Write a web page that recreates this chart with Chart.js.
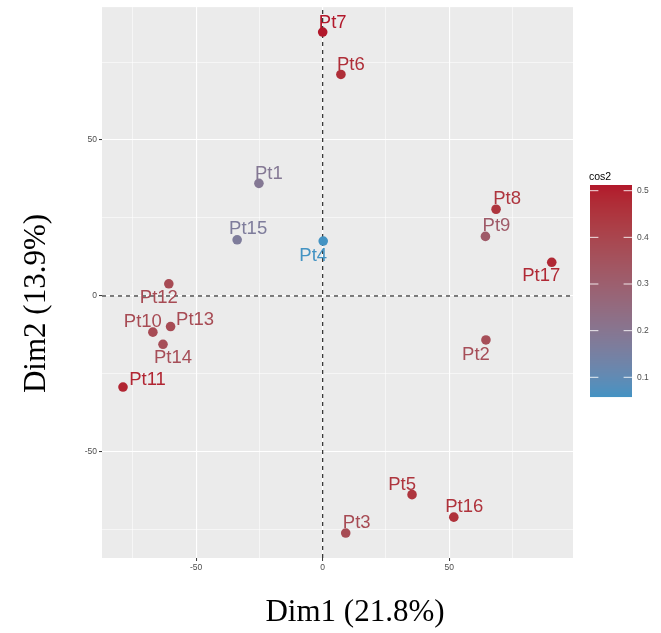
<!DOCTYPE html>
<html><head><meta charset="utf-8">
<script src="https://cdn.jsdelivr.net/npm/chart.js@4"></script>
<style>html,body{margin:0;padding:0;background:#fff}canvas{display:block}</style>
</head><body>
<canvas id="c" width="661" height="633"></canvas>
<script>
// ---- data ----
const categories = ['Pt1','Pt2','Pt3','Pt4','Pt5','Pt6','Pt7','Pt8','Pt9','Pt10','Pt11','Pt12','Pt13','Pt14','Pt15','Pt16','Pt17'];
const dim1 = [-25.2, 64.5, 9.1, 0.2, 35.3, 7.2, 0.0, 68.5, 64.3, -67.1, -78.9, -60.8, -60.1, -63.1, -33.8, 51.8, 90.5];
const dim2 = [36.1, -14.1, -76.0, 17.6, -63.7, 71.0, 84.6, 27.8, 19.1, -11.6, -29.2, 3.9, -9.8, -15.5, 18.0, -70.9, 10.8];
const cos2 = [0.19, 0.37, 0.38, 0.058, 0.45, 0.47, 0.512, 0.45, 0.32, 0.38, 0.49, 0.38, 0.38, 0.37, 0.17, 0.46, 0.48];
const axisTicks = [-75, -50, -25, 0, 25, 50, 75];
const legendTicks = [0.1, 0.2, 0.3, 0.4, 0.5];
const xTitle = 'Dim1 (21.8%)';
const yTitle = 'Dim2 (13.9%)';
const legendTitle = 'cos2';

// ---- colour scale (Lab interpolation, like ggplot) ----
const LOW = '#4393C3', HIGH = '#B2182B';
function hex2rgb(h){return [1,3,5].map(i=>parseInt(h.substr(i,2),16));}
function lin(c){c/=255;return c<=0.04045?c/12.92:Math.pow((c+0.055)/1.055,2.4);}
function delin(c){c=c<=0.0031308?12.92*c:1.055*Math.pow(c,1/2.4)-0.055;return Math.round(Math.max(0,Math.min(1,c))*255);}
const Xn=0.95047,Yn=1,Zn=1.08883;
function f(t){return t>0.008856?Math.cbrt(t):7.787*t+16/116;}
function fi(t){return t>0.206893?t*t*t:(t-16/116)/7.787;}
function rgb2lab(rgb){const [r,g,b]=rgb.map(lin);
  const X=0.4124*r+0.3576*g+0.1805*b,Y=0.2126*r+0.7152*g+0.0722*b,Z=0.0193*r+0.1192*g+0.9505*b;
  const fx=f(X/Xn),fy=f(Y/Yn),fz=f(Z/Zn);return [116*fy-16,500*(fx-fy),200*(fy-fz)];}
function lab2rgb(lab){const fy=(lab[0]+16)/116,fx=fy+lab[1]/500,fz=fy-lab[2]/200;
  const X=Xn*fi(fx),Y=Yn*fi(fy),Z=Zn*fi(fz);
  const r=3.2406*X-1.5372*Y-0.4986*Z,g=-0.9689*X+1.8758*Y+0.0415*Z,b=0.0557*X-0.2040*Y+1.0570*Z;
  return [delin(r),delin(g),delin(b)];}
const labLo=rgb2lab(hex2rgb(LOW)),labHi=rgb2lab(hex2rgb(HIGH));
const cMin=Math.min(...cos2),cMax=Math.max(...cos2);
function colorFor(v){let t=(v-cMin)/(cMax-cMin);t=Math.max(0,Math.min(1,t));
  const c=lab2rgb(labLo.map((a,i)=>a+(labHi[i]-a)*t));return `rgb(${c[0]},${c[1]},${c[2]})`;}

// ---- label placement (pixel offsets of label centre from its point) ----
const labelOffsets = {
  Pt1:[10,-11],Pt2:[-10,13],Pt3:[11,-11.5],Pt4:[-10,13],Pt5:[-10,-11],Pt6:[10,-11],Pt7:[10,-11],
  Pt8:[11,-12],Pt9:[11,-12],Pt10:[-10,-12],Pt11:[24.5,-9],Pt12:[-10,13],Pt13:[24.5,-8.4],
  Pt14:[10,12.4],Pt15:[11,-12],Pt16:[10.5,-11.5],Pt17:[-10.5,12.4]
};
const SANS = "'Liberation Sans', Arial, Helvetica, sans-serif";
const SERIF = "'Liberation Serif', 'Times New Roman', serif";

const panelPlugin = {
  id:'panel',
  beforeDraw(chart){const {ctx,chartArea:a}=chart;ctx.save();ctx.fillStyle='#EBEBEB';
    ctx.fillRect(a.left,a.top,a.right-a.left,a.bottom-a.top);ctx.restore();},
  beforeDatasetsDraw(chart){const {ctx,chartArea:a,scales}=chart;
    const x0=scales.x.getPixelForValue(0),y0=scales.y.getPixelForValue(0);
    ctx.save();ctx.strokeStyle='#1a1a1a';ctx.lineWidth=1.1;ctx.setLineDash([4,4]);
    ctx.beginPath();ctx.moveTo(x0,a.bottom);ctx.lineTo(x0,a.top);ctx.stroke();
    ctx.beginPath();ctx.moveTo(a.left,y0);ctx.lineTo(a.right,y0);ctx.stroke();ctx.restore();},
  afterDatasetsDraw(chart){const {ctx}=chart;const meta=chart.getDatasetMeta(0);
    ctx.save();const fs=18.5;ctx.font=`${fs}px ${SANS}`;ctx.textAlign='center';ctx.textBaseline='alphabetic';
    meta.data.forEach((el,i)=>{const o=labelOffsets[categories[i]];ctx.fillStyle=colorFor(cos2[i]);
      ctx.fillText(categories[i],el.x+o[0],el.y+o[1]+0.358*fs);});
    ctx.restore();},
  afterDraw(chart){const {ctx}=chart;ctx.save();
    // axis titles
    ctx.fillStyle='#000';ctx.font=`31px ${SERIF}`;ctx.textAlign='center';ctx.textBaseline='alphabetic';
    ctx.fillText(xTitle,355,621);
    ctx.translate(45,303.5);ctx.rotate(-Math.PI/2);ctx.fillText(yTitle,0,0);
    ctx.restore();
    // colour bar
    ctx.save();const bx=590,bw=42,bt=185,bb=397;
    const vTop=0.5122,vBot=0.0578;
    for(let y=bt;y<bb;y++){const v=vTop-(y+0.5-bt)/(bb-bt)*(vTop-vBot);
      const t=(v-vBot)/(vTop-vBot);const c=lab2rgb(labLo.map((a,k)=>a+(labHi[k]-a)*t));
      ctx.fillStyle=`rgb(${c[0]},${c[1]},${c[2]})`;ctx.fillRect(bx,y,bw,1.05);}
    ctx.strokeStyle='rgba(255,255,255,0.85)';ctx.lineWidth=1;
    ctx.font=`8.5px ${SANS}`;ctx.fillStyle='#4d4d4d';ctx.textAlign='left';ctx.textBaseline='middle';
    legendTicks.forEach(v=>{const y=bt+(vTop-v)/(vTop-vBot)*(bb-bt);
      ctx.beginPath();ctx.moveTo(bx,y);ctx.lineTo(bx+8.4,y);ctx.moveTo(bx+bw-8.4,y);ctx.lineTo(bx+bw,y);ctx.stroke();
      ctx.fillText(String(v),637,y);});
    ctx.fillStyle='#000';ctx.font=`10.5px ${SANS}`;ctx.textBaseline='alphabetic';
    ctx.fillText(legendTitle,589,180);
    ctx.restore();}
};

function majorOf(c){return c.tick && Math.abs(c.tick.value%50)<1e-9;}
const gridCfg = {color:'#ffffff',lineWidth:c=>majorOf(c)?1.1:0.55,drawTicks:true,tickLength:3,
  tickColor:c=>majorOf(c)?'#333333':'rgba(0,0,0,0)',tickWidth:1};
const tickCfg = {font:{size:8.5,family:SANS},color:'#4d4d4d',padding:2,autoSkip:false,maxRotation:0,
  callback:v=>Math.abs(v%50)<1e-9?String(v):''};

new Chart(document.getElementById('c'),{
  type:'scatter',
  data:{datasets:[{data:dim1.map((x,i)=>({x,y:dim2[i]})),
    backgroundColor:c=>colorFor(cos2[c.dataIndex]),borderWidth:0,pointRadius:4.8,pointHoverRadius:4.8}]},
  options:{responsive:false,devicePixelRatio:1,animation:false,
    layout:{padding:{top:7,right:88,left:0,bottom:0}},
    plugins:{legend:{display:false},tooltip:{enabled:false}},
    scales:{
      x:{type:'linear',min:-87.2,max:98.9,grid:gridCfg,border:{display:false},ticks:tickCfg,
        afterBuildTicks:s=>{s.ticks=axisTicks.map(v=>({value:v}));},afterFit:s=>{s.height=75;}},
      y:{type:'linear',min:-84,max:92.6,grid:gridCfg,border:{display:false},ticks:tickCfg,
        afterBuildTicks:s=>{s.ticks=axisTicks.map(v=>({value:v}));},afterFit:s=>{s.width=102;}}
    }},
  plugins:[panelPlugin]
});
</script>
</body></html>
